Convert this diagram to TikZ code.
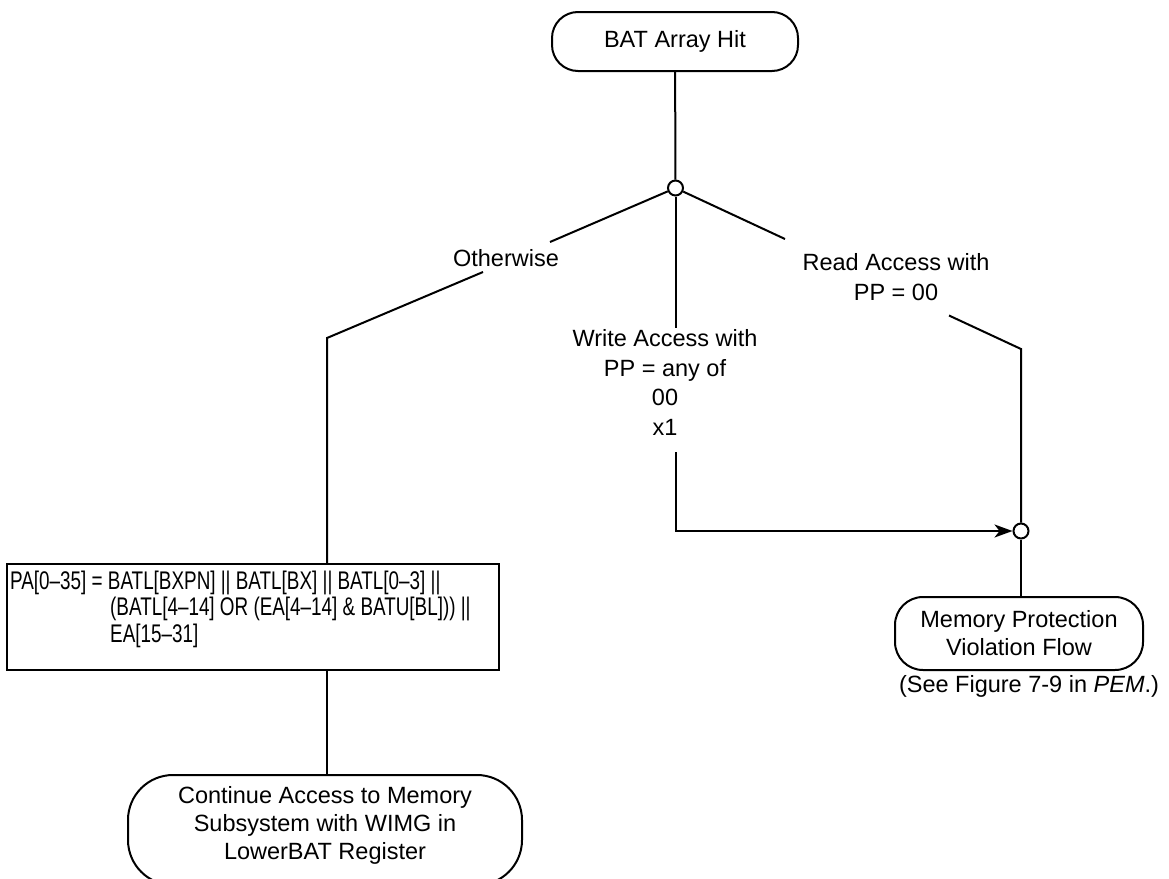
\documentclass[tikz,border=0pt]{standalone}
\usepackage{fontspec}
\setmainfont{Liberation Sans}
\newfontfamily\narrowfont{Liberation Sans}[FakeStretch=0.74]
\usetikzlibrary{arrows.meta}
\tikzset{
  conn/.style={line width=2pt},
  term/.style={draw, line width=2pt, rounded corners=26pt, align=center, inner sep=0pt},
  junc/.style={circle, draw, line width=2pt, fill=white, minimum size=15pt, inner sep=0pt},
  lbl/.style={align=center, inner sep=0pt},
  tip/.style={-{Stealth[length=18pt, width=13pt, inset=5pt]}},
}
\begin{document}
\begin{tikzpicture}[x=1pt, y=-1pt, font=\fontsize{23.5}{29.5}\selectfont]
\useasboundingbox (0,0) rectangle (1169,878);
\clip (0,0) rectangle (1169,878);

% nodes
\node[term, minimum width=246pt, minimum height=59pt] (bat) at (675,41.5) {BAT Array Hit};
\node[junc] (c1) at (675.5,188) {};
\node[junc] (c2) at (1021,531) {};
\node[lbl] (oth) at (506,258) {Otherwise};
\node[lbl] (wr) at (665,382.5) {Write Access with\\PP = any of\\00\\x1};
\node[lbl] (rd) at (896,277) {Read Access with\\PP = 00};
\node[draw, line width=2pt, minimum width=492pt, minimum height=106pt, inner sep=0pt] (pa) at (253,617) {};
\node[anchor=north west, align=left, inner sep=0pt, font=\narrowfont\fontsize{25.5}{26.5}\selectfont] (patext) at (10,570.5)
  {PA[0–35] = BATL[BXPN] || BATL[BX] || BATL[0–3] ||\\
   \hspace*{100pt}(BATL[4–14] OR (EA[4–14] \& BATU[BL])) ||\\
   \hspace*{100pt}EA[15–31]};
\node[term, rounded corners=28pt, minimum width=248pt, minimum height=73pt, font=\fontsize{23.5}{28}\selectfont] (mpv) at (1019,633.5) {Memory Protection\\Violation Flow};
\node[lbl] (see) at (1029,686) {(See Figure 7-9 in \textit{PEM}.)};
\node[term, rounded corners=45pt, minimum width=394pt, minimum height=110pt, text depth=15pt, font=\fontsize{23.5}{28}\selectfont] (cont) at (325,830) {Continue Access to Memory\\Subsystem with WIMG in\\LowerBAT Register};

% break points
\coordinate (lA) at (550,242);
\coordinate (lB) at (483,272);
\coordinate (lC) at (327,338);
\coordinate (wA) at (675.5,328);
\coordinate (wB) at (675.5,452);
\coordinate (wC) at (675.5,531);
\coordinate (rA) at (785,239);
\coordinate (rB) at (949,315.5);
\coordinate (rC) at (1021,349);

% connectors
\draw[conn] (bat) -- (c1);
\draw[conn] (c1) -- (lA);
\draw[conn] (lB) -- (lC) -- (lC |- pa.north);
\draw[conn] (c1) -- (wA);
\draw[conn, tip] (wB) -- (wC) -- (c2);
\draw[conn] (c1) -- (rA);
\draw[conn] (rB) -- (rC) -- (c2);
\draw[conn] (c2) -- (c2 |- mpv.north);
\draw[conn] (lC |- pa.south) -- (lC |- cont.north);
\end{tikzpicture}
\end{document}
